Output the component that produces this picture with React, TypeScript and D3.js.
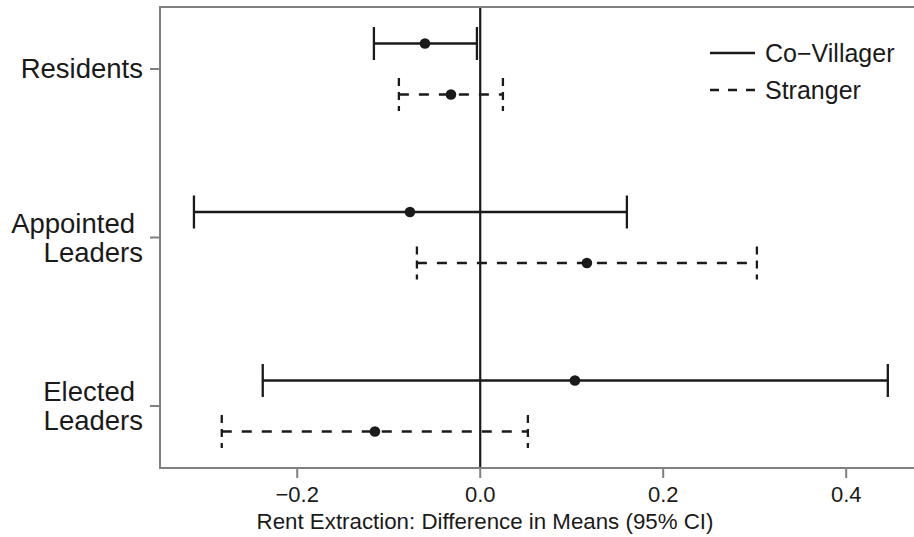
import React from "react";
import * as d3 from "d3";

const categories = ["Residents", "Appointed Leaders", "Elected Leaders"];
const categoryLines = [["Residents"], ["Appointed", "Leaders"], ["Elected", "Leaders"]];
const seriesNames = ["Co\u2212Villager", "Stranger"];

const coVillagerEst = [-0.0604, -0.0768, 0.1035];
const coVillagerLow = [-0.1162, -0.3129, -0.2377];
const coVillagerHigh = [-0.0036, 0.1603, 0.4455];

const strangerEst = [-0.032, 0.1166, -0.1151];
const strangerLow = [-0.0889, -0.0692, -0.2825];
const strangerHigh = [0.0248, 0.3024, 0.0521];

const xTicks = [-0.2, 0.0, 0.2, 0.4];
const xDomain = [-0.35, 0.4763];

const W = 914;
const H = 537;
const panel = { left: 160, top: 7, right: 916, bottom: 468 };
const FONT = "'Liberation Sans', Arial, Helvetica, sans-serif";
const INK = "#1a1a1a";
const GREY = "#808080";

export default function App() {
  const x = d3.scaleLinear().domain(xDomain).range([panel.left, panel.right]);
  const y = d3.scalePoint<string>().domain(categories).range([panel.top, panel.bottom]).padding(0.368);
  const offset = 25.5;
  const capHalf = 16.5;

  const series = [
    { name: seriesNames[0], est: coVillagerEst, low: coVillagerLow, high: coVillagerHigh, dy: -offset, dash: undefined as string | undefined },
    { name: seriesNames[1], est: strangerEst, low: strangerLow, high: strangerHigh, dy: offset, dash: "10,10" },
  ];

  return (
    <svg width={W} height={H} style={{ position: "absolute", left: 0, top: 0, background: "#fff" }} fontFamily={FONT}>
      <rect x={0} y={0} width={W} height={H} fill="#fff" />
      <line x1={x(0)} x2={x(0)} y1={panel.top} y2={panel.bottom} stroke={INK} strokeWidth={2.2} />
      {series.map((s, si) =>
        categories.map((c, i) => {
          const yy = (y(c) as number) + s.dy;
          return (
            <g key={`${si}-${i}`}>
              <line x1={x(s.low[i])} x2={x(s.high[i])} y1={yy} y2={yy} stroke={INK} strokeWidth={2.3} strokeDasharray={s.dash} />
              <line x1={x(s.low[i])} x2={x(s.low[i])} y1={yy - capHalf} y2={yy + capHalf} stroke={INK} strokeWidth={2.3} strokeDasharray={s.dash ? "8,6" : undefined} />
              <line x1={x(s.high[i])} x2={x(s.high[i])} y1={yy - capHalf} y2={yy + capHalf} stroke={INK} strokeWidth={2.3} strokeDasharray={s.dash ? "8,6" : undefined} />
              <circle cx={x(s.est[i])} cy={yy} r={5.3} fill={INK} />
            </g>
          );
        })
      )}
      <line x1={panel.left} x2={panel.left} y1={panel.top} y2={panel.bottom + 1} stroke={GREY} strokeWidth={2} />
      <line x1={panel.left - 1} x2={W} y1={panel.bottom} y2={panel.bottom} stroke={GREY} strokeWidth={2} />
      <line x1={panel.left - 1} x2={W} y1={panel.top} y2={panel.top} stroke={GREY} strokeWidth={2} />
      {xTicks.map((t) => (
        <g key={t}>
          <line x1={x(t)} x2={x(t)} y1={panel.bottom} y2={panel.bottom + 10} stroke={GREY} strokeWidth={2} />
          <text x={x(t)} y={502} textAnchor="middle" fontSize={22} fill={INK}>
            {d3.format(".1f")(t).replace("-", "\u2212")}
          </text>
        </g>
      ))}
      <text x={485} y={529} textAnchor="middle" fontSize={22.3} fill={INK}>
        Rent Extraction: Difference in Means (95% CI)
      </text>
      {categories.map((c, i) => {
        const yc = y(c) as number;
        const lines = categoryLines[i];
        return (
          <g key={c}>
            <line x1={panel.left - 10} x2={panel.left} y1={yc} y2={yc} stroke={GREY} strokeWidth={2} />
            {lines.length === 1 ? (
              <text x={143} y={yc + 9} textAnchor="end" fontSize={27.5} fill={INK}>{lines[0]}</text>
            ) : (
              <>
                <text x={135} y={yc - 4.5} textAnchor="end" fontSize={27.5} fill={INK}>{lines[0]}</text>
                <text x={143} y={yc + 24.5} textAnchor="end" fontSize={27.5} fill={INK}>{lines[1]}</text>
              </>
            )}
          </g>
        );
      })}
      {series.map((s, i) => {
        const ly = 53 + i * 37;
        return (
          <g key={s.name}>
            <line x1={710} x2={755} y1={ly} y2={ly} stroke={INK} strokeWidth={2.3} strokeDasharray={s.dash ? "9,9" : undefined} />
            <text x={765} y={ly + 8.5} fontSize={25} fill={INK}>{s.name}</text>
          </g>
        );
      })}
    </svg>
  );
}
